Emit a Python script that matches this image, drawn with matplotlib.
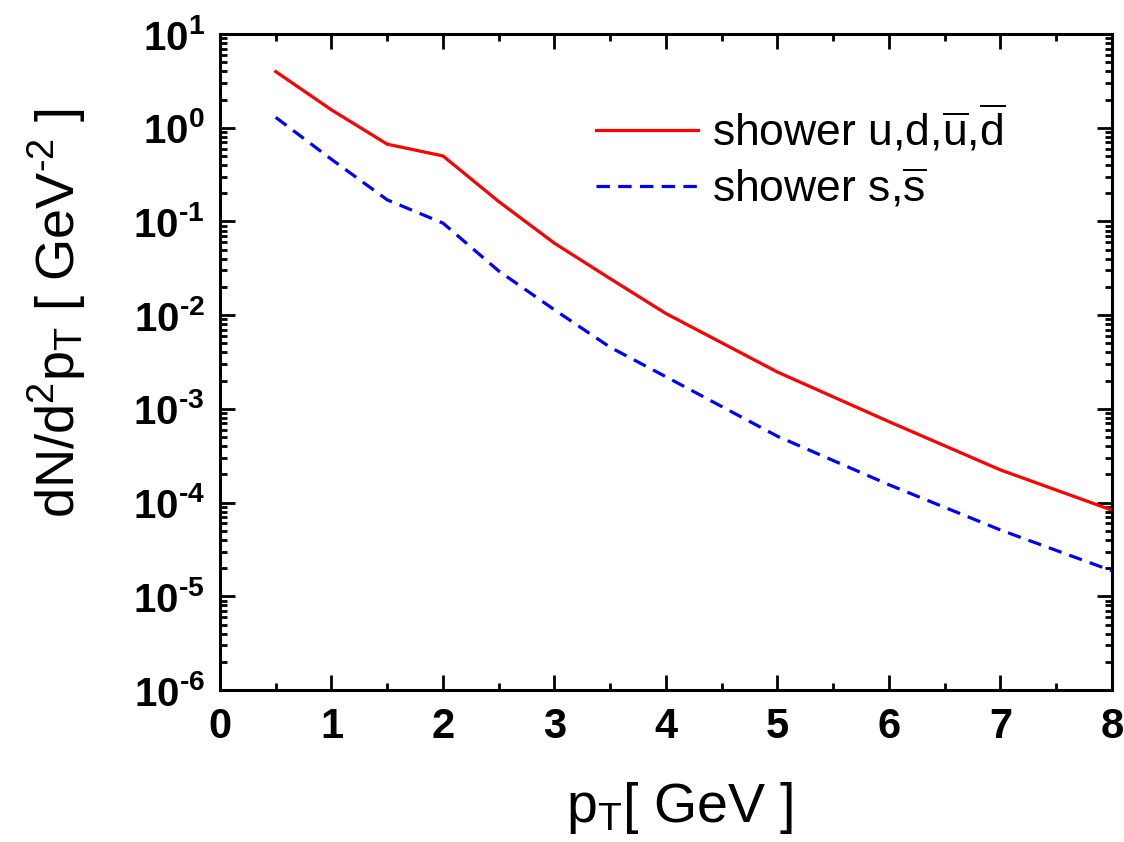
import numpy as np
import matplotlib
matplotlib.use("Agg")
import matplotlib.pyplot as plt
from matplotlib.ticker import FixedLocator, FuncFormatter, LogLocator, NullFormatter

plt.rcParams["font.family"] = ["Liberation Sans", "DejaVu Sans"]
plt.rcParams["mathtext.fontset"] = "custom"
plt.rcParams["mathtext.rm"] = "Liberation Sans"
plt.rcParams["mathtext.it"] = "Liberation Sans"
plt.rcParams["mathtext.bf"] = "Liberation Sans:bold"
plt.rcParams["mathtext.default"] = "regular"

HYPHEN = "\u2010"  # plain hyphen instead of the math minus, like the original

# shower parton spectra
pt = [0.5, 1.0, 1.5, 2.0, 2.5, 3.0, 3.5, 4.0, 5.0, 6.0, 7.0, 8.0]
shower_ud = [3.97, 1.55, 0.667, 0.50, 0.163, 0.0585, 0.0245, 0.0104,
             0.00247, 7.3e-4, 2.23e-4, 8.3e-5]
shower_s = [1.29, 0.46, 0.17, 0.096, 0.0296, 0.0114, 0.00454, 0.0022,
            5.1e-4, 1.55e-4, 5.1e-5, 1.87e-5]

x_ticks = [0, 1, 2, 3, 4, 5, 6, 7, 8]
y_ticks = [1e-6, 1e-5, 1e-4, 1e-3, 1e-2, 1e-1, 1e0, 1e1]


def pow10_label(v, pos):
    e = int(round(np.log10(v)))
    return r"$\mathbf{10^{%s}}$" % str(e).replace("-", HYPHEN)


fig = plt.figure(figsize=(11.24, 8.42), dpi=100)
ax = fig.add_axes([0.1957, 0.1805, 0.7936, 0.7791])

ax.plot(pt, shower_ud, color="#ff0000", lw=2.3,
        label=r"shower u,d,$\overline{u}$,$\overline{d}$")
ax.plot(pt, shower_s, color="#0000ff", lw=2.3, linestyle=(0, (4.2, 2.6)),
        label=r"shower s,$\overline{s}$")

ax.set_yscale("log")
ax.set_xlim(0, 8)
ax.set_ylim(1e-6, 1e1)

ax.xaxis.set_major_locator(FixedLocator(x_ticks))
ax.xaxis.set_minor_locator(FixedLocator(np.arange(0.5, 8, 1.0)))
ax.yaxis.set_major_locator(FixedLocator(y_ticks))
ax.yaxis.set_minor_locator(LogLocator(base=10, subs=np.arange(2, 10), numticks=20))
ax.yaxis.set_minor_formatter(NullFormatter())
ax.xaxis.set_major_formatter(FuncFormatter(lambda v, p: f"{int(v)}"))
ax.yaxis.set_major_formatter(FuncFormatter(pow10_label))

ax.tick_params(which="both", direction="in", top=True, right=True, width=2.0)
ax.tick_params(which="major", length=10.5)
ax.tick_params(which="minor", length=5)
ax.tick_params(axis="x", which="major", pad=12)
ax.tick_params(axis="y", which="major", pad=11)
for lab in ax.get_xticklabels():
    lab.set_fontsize(30)
    lab.set_fontweight("bold")
for lab in ax.get_yticklabels():
    lab.set_fontsize(29)
for sp in ax.spines.values():
    sp.set_linewidth(2.2)

ax.set_xlabel(r"p$_T$[ GeV ]", fontsize=40)
ax.set_ylabel(r"dN/d$^2$p$_T$ [ GeV$^{%s2}$ ]" % HYPHEN, fontsize=39)
ax.xaxis.set_label_coords(0.515, -0.137)
ax.yaxis.set_label_coords(-0.148, 0.575)

ax.legend(loc="upper left", bbox_to_anchor=(0.4215, 0.895), frameon=False,
          fontsize=32, handlelength=2.3, handletextpad=0.3, labelspacing=0.26,
          borderpad=0, borderaxespad=0)

fig.savefig("out.png", dpi=100)
